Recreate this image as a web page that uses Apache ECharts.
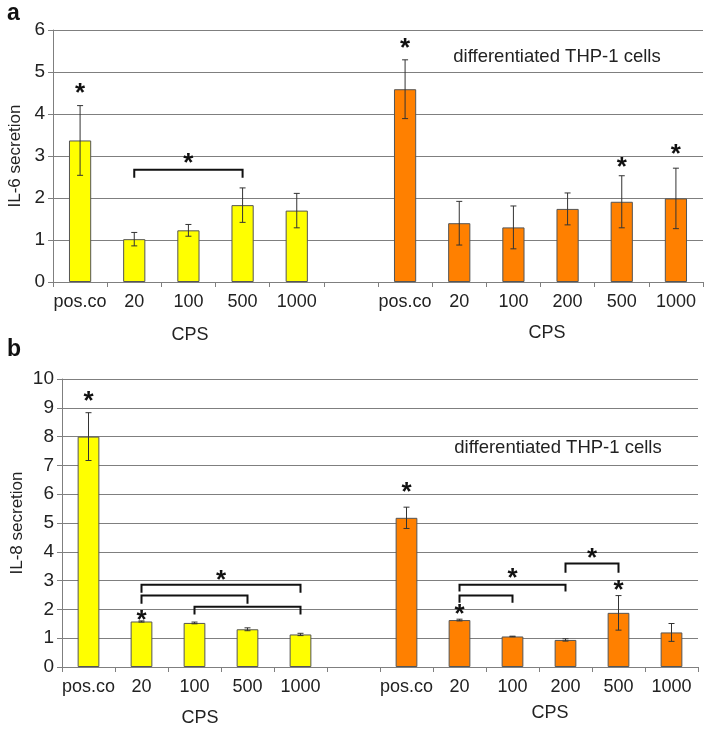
<!DOCTYPE html>
<html><head><meta charset="utf-8">
<script src="https://cdn.jsdelivr.net/npm/echarts@6/dist/echarts.min.js"></script>
<style>html,body{margin:0;padding:0;background:#fff}#c{width:713px;height:729px}</style>
</head><body><div id="c"></div>
<script>
// ---- data ----
const categoriesA = ['pos.co','20','100','500','1000','','pos.co','20','100','200','500','1000'];
const categoriesB = ['pos.co','20','100','500','1000','','pos.co','20','100','200','500','1000'];
// panel a (IL-6)
const il6Yellow    = [3.37, 1.02, 1.23, 1.83, 1.70, '-', '-', '-', '-', '-', '-', '-'];
const il6YellowErr = [0.83, 0.16, 0.14, 0.41, 0.41, '-', '-', '-', '-', '-', '-', '-'];
const il6Orange    = ['-', '-', '-', '-', '-', '-', 4.59, 1.40, 1.30, 1.74, 1.91, 1.99];
const il6OrangeErr = ['-', '-', '-', '-', '-', '-', 0.70, 0.52, 0.51, 0.38, 0.62, 0.72];
// asterisks: [category index, y value]
const il6Stars = [[0, 4.62], [2, 2.95], [6, 5.69], [10, 2.86], [11, 3.17]];
// brackets: [start idx, end idx, top value, foot value]
const il6Brackets = [[1, 3, 2.67, 2.48]];
// panel b (IL-8)
const il8Yellow    = [8.00, 1.58, 1.53, 1.31, 1.13, '-', '-', '-', '-', '-', '-', '-'];
const il8YellowErr = [0.83, 0.02, 0.03, 0.05, 0.04, '-', '-', '-', '-', '-', '-', '-'];
const il8Orange    = ['-', '-', '-', '-', '-', '-', 5.18, 1.63, 1.06, 0.94, 1.88, 1.20];
const il8OrangeErr = ['-', '-', '-', '-', '-', '-', 0.37, 0.03, 0.01, 0.04, 0.60, 0.31];
const il8Stars = [[0, 9.42], [1, 1.82], [2.5, 3.2], [6, 6.26], [7, 2.03], [8, 3.27], [9.5, 3.97], [10, 2.86]];
const il8Brackets = [[1, 4, 2.86, 2.58], [1, 3, 2.48, 2.20], [2, 4, 2.09, 1.82], [7, 8, 2.48, 2.23], [7, 9, 2.86, 2.62], [9, 10, 3.59, 3.27]];
const yTicksA = [0, 6, 1];
const yTicksB = [0, 10, 1];

// ---- styles ----
const FONT = 'Liberation Sans, Arial, sans-serif';
const YELLOW = '#FFFF00', ORANGE = '#FF8000', BORDER = '#555555', GRIDC = '#7f7f7f';

function errSeries(vals, errs, xi) {
  const data = vals.map((v, i) => (v === '-' ? null : [i, v, errs[i]])).filter(Boolean);
  return {
    type: 'custom', xAxisIndex: xi, yAxisIndex: xi, z: 5, silent: true,
    encode: { x: 0, y: 1 },
    data: data,
    renderItem: function (params, api) {
      const x = api.value(0), v = api.value(1), e = api.value(2);
      const hi = api.coord([x, v + e]), lo = api.coord([x, v - e]);
      const c = 3;
      const st = { stroke: '#333', lineWidth: 1 };
      return { type: 'group', children: [
        { type: 'line', shape: { x1: hi[0], y1: hi[1], x2: lo[0], y2: lo[1] }, style: st },
        { type: 'line', shape: { x1: hi[0]-c, y1: hi[1], x2: hi[0]+c, y2: hi[1] }, style: st },
        { type: 'line', shape: { x1: lo[0]-c, y1: lo[1], x2: lo[0]+c, y2: lo[1] }, style: st }
      ]};
    }
  };
}
function starSeries(stars, xi) {
  return {
    type: 'custom', xAxisIndex: xi, yAxisIndex: xi, z: 6, silent: true,
    encode: { x: 0, y: 1 }, data: stars,
    renderItem: function (params, api) {
      const xv = api.value(0), yv = api.value(1);
      const a = api.coord([Math.floor(xv), yv]);
      const b = api.coord([Math.ceil(xv), yv]);
      const px = (a[0] + b[0]) / 2;
      return { type: 'text', x: px, y: a[1] + 6, style: {
        text: '*', fill: '#111', font: 'bold 26px ' + FONT, align: 'center', verticalAlign: 'middle' } };
    }
  };
}
function bracketSeries(br, xi) {
  return {
    type: 'custom', xAxisIndex: xi, yAxisIndex: xi, z: 6, silent: true,
    encode: { x: 0, y: 2 }, data: br,
    renderItem: function (params, api) {
      const s = api.value(0), e = api.value(1), t = api.value(2), f = api.value(3);
      const p1 = api.coord([s, f]), p2 = api.coord([s, t]), p3 = api.coord([e, t]), p4 = api.coord([e, f]);
      return { type: 'polyline', shape: { points: [p1, p2, p3, p4] },
        style: { stroke: '#111', lineWidth: 2, fill: null } };
    }
  };
}
function barSeries(vals, color, xi) {
  return { type: 'bar', xAxisIndex: xi, yAxisIndex: xi, data: vals, barWidth: '41%', barGap: '-100%',
    itemStyle: { color: color, borderColor: BORDER, borderWidth: 1 }, silent: true, z: 3 };
}
function xAxis(cats, gi) {
  return { type: 'category', gridIndex: gi, data: cats,
    axisLine: { lineStyle: { color: GRIDC, width: 1 } },
    axisTick: { show: true, interval: 0, length: 5, lineStyle: { color: GRIDC } },
    axisLabel: { interval: 0, color: '#222', fontSize: 18, fontFamily: FONT, margin: 11 } };
}
function yAxis(t, gi, name, gap) {
  return { type: 'value', gridIndex: gi, min: t[0], max: t[1], interval: t[2],
    name: name, nameLocation: 'middle', nameGap: gap, nameRotate: 90, nameMoveOverlap: false,
    nameTextStyle: { color: '#222', fontSize: 17, fontFamily: FONT },
    axisLine: { show: true, lineStyle: { color: GRIDC } },
    axisTick: { show: true, length: 5, lineStyle: { color: GRIDC } },
    axisLabel: { color: '#222', fontSize: 19, fontFamily: FONT, margin: 8 },
    splitLine: { show: true, lineStyle: { color: GRIDC, width: 1 } } };
}

const chart = echarts.init(document.getElementById('c'), null, { renderer: 'canvas' });
chart.setOption({
  animation: false,
  backgroundColor: '#fff',
  grid: [
    { left: 53, right: 10, top: 30, height: 252, containLabel: false, outerBoundsMode: 'none' },
    { left: 62, right: 15, top: 379, height: 288, containLabel: false, outerBoundsMode: 'none' }
  ],
  xAxis: [xAxis(categoriesA, 0), xAxis(categoriesB, 1)],
  yAxis: [yAxis(yTicksA, 0, 'IL-6 secretion', 29), yAxis(yTicksB, 1, 'IL-8 secretion', 36)],
  graphic: [
    { type: 'text', left: 7, top: 2, style: { text: 'a', font: 'bold 23px ' + FONT, fill: '#111' } },
    { type: 'text', left: 7, top: 338, style: { text: 'b', font: 'bold 23px ' + FONT, fill: '#111' } },
    { type: 'text', x: 190, y: 335, style: { text: 'CPS', font: '18px ' + FONT, fill: '#222', align: 'center', verticalAlign: 'middle' } },
    { type: 'text', x: 547, y: 333, style: { text: 'CPS', font: '18px ' + FONT, fill: '#222', align: 'center', verticalAlign: 'middle' } },
    { type: 'text', x: 200, y: 718, style: { text: 'CPS', font: '18px ' + FONT, fill: '#222', align: 'center', verticalAlign: 'middle' } },
    { type: 'text', x: 550, y: 713, style: { text: 'CPS', font: '18px ' + FONT, fill: '#222', align: 'center', verticalAlign: 'middle' } },
    { type: 'text', x: 557, y: 57, style: { text: 'differentiated THP-1 cells', font: '18.5px ' + FONT, fill: '#222', align: 'center', verticalAlign: 'middle' } },
    { type: 'text', x: 558, y: 448, style: { text: 'differentiated THP-1 cells', font: '18.5px ' + FONT, fill: '#222', align: 'center', verticalAlign: 'middle' } }
  ],
  series: [
    barSeries(il6Yellow, YELLOW, 0), barSeries(il6Orange, ORANGE, 0),
    errSeries(il6Yellow, il6YellowErr, 0), errSeries(il6Orange, il6OrangeErr, 0),
    starSeries(il6Stars, 0), bracketSeries(il6Brackets, 0),
    barSeries(il8Yellow, YELLOW, 1), barSeries(il8Orange, ORANGE, 1),
    errSeries(il8Yellow, il8YellowErr, 1), errSeries(il8Orange, il8OrangeErr, 1),
    starSeries(il8Stars, 1), bracketSeries(il8Brackets, 1)
  ]
});
</script></body></html>
